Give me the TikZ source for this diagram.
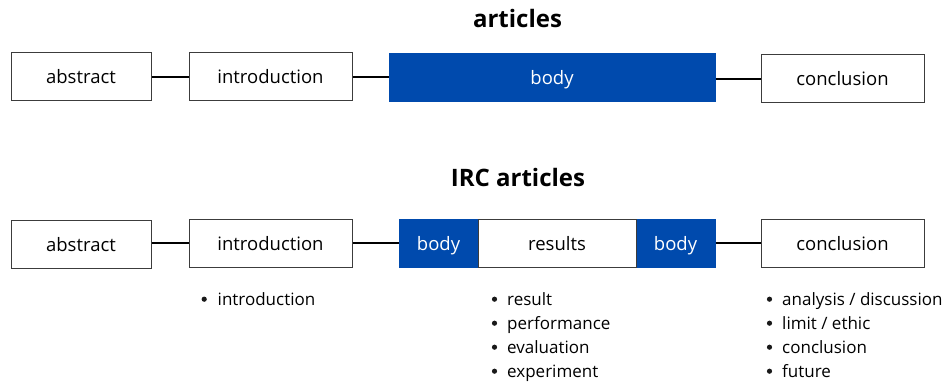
\documentclass[tikz,border=0pt]{standalone}
\usepackage{fontspec}
\setmainfont{Open Sans}
\definecolor{bodyblue}{RGB}{0,74,173}
\definecolor{boxgray}{RGB}{60,60,60}
\begin{document}
\begin{tikzpicture}[x=1pt,y=-1pt,
  box/.style={draw=boxgray, line width=1pt, fill=white, inner sep=0pt,
    minimum height=48pt, font=\fontsize{18.5}{20}\selectfont,
    text height=14pt, text depth=0pt},
  bluebox/.style={box, fill=bodyblue, draw=bodyblue, text=white},
  link/.style={line width=2pt},
  title/.style={anchor=base, inner sep=0pt, font=\fontsize{24}{28}\selectfont\bfseries},
  itemtext/.style={anchor=base west, inner sep=0pt, font=\fontsize{17}{20}\selectfont},
  dot/.style={circle, fill=black!90, inner sep=0pt, minimum size=5.2pt}
]
\useasboundingbox (0,0) rectangle (947,385);

% titles
\node[title] (t1) at (517.5,27.5) {articles};
\node[title] (t2) at (518,186) {IRC articles};

% top row
\node[box, minimum width=140pt] (a1) at (81,77) {abstract};
\node[box, minimum width=163pt] (i1) at (270.5,77) {introduction};
\node[bluebox, minimum width=326pt] (b1) at (552,78) {body};
\node[box, minimum width=163pt] (c1) at (842.5,79) {conclusion};

\draw[link] (a1.east) -- (i1.west);
\draw[link] (i1.east) -- (i1.east -| b1.west);
\draw[link] (b1.east |- c1.west) -- (c1.west);

% bottom row
\node[box, minimum width=140pt] (a2) at (81,244) {abstract};
\node[box, minimum width=163pt] (i2) at (270.5,243) {introduction};
\node[bluebox, minimum width=79pt] (b2) at (438.5,243) {body};
\node[bluebox, minimum width=79pt] (b3) at (675.5,243) {body};
\node[box, minimum width=158pt] (r2) at (557,243) {results};
\node[box, minimum width=163pt] (c2) at (842.5,243) {conclusion};

\draw[link] (i2.west -| a2.east) -- (i2.west);
\draw[link] (i2.east) -- (b2.west);
\draw[link] (b3.east) -- (c2.west);

% lists
\node[dot] (d0) at (204.2,299.2) {};
\node[itemtext] (l0) at (217.5,305) {introduction};

\node[dot] (d1) at (494.5,299.2) {};
\node[itemtext] (l1) at (507,305) {result};
\node[dot] (d2) at (494.5,323.2) {};
\node[itemtext] (l2) at (507,329) {performance};
\node[dot] (d3) at (494.5,347.2) {};
\node[itemtext] (l3) at (507,353) {evaluation};
\node[dot] (d4) at (494.5,371.2) {};
\node[itemtext] (l4) at (507,377) {experiment};

\node[dot] (e1) at (769.5,299.2) {};
\node[itemtext] (m1) at (782,305) {analysis / discussion};
\node[dot] (e2) at (769.5,323.2) {};
\node[itemtext] (m2) at (782,329) {limit / ethic};
\node[dot] (e3) at (769.5,347.2) {};
\node[itemtext] (m3) at (782,353) {conclusion};
\node[dot] (e4) at (769.5,371.2) {};
\node[itemtext] (m4) at (782,377) {future};
\end{tikzpicture}
\end{document}
